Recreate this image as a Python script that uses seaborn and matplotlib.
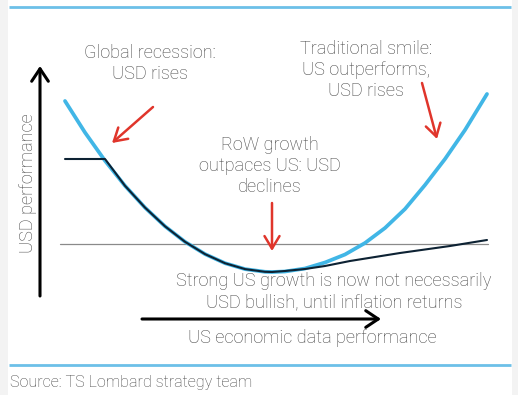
import numpy as np
import pandas as pd
import seaborn as sns
import matplotlib
matplotlib.use("Agg")
import matplotlib.pyplot as plt
from matplotlib.patches import Rectangle

# ---- data (x = US economic data performance, y = USD level; screen-like units) ----
smile_x = [65, 85, 105, 125, 145, 165, 185, 205, 225, 245, 265, 272, 285, 305, 325, 345,
           365, 385, 405, 425, 445, 465, 487]
smile_y = [101, 132.5, 160.7, 185.8, 207.6, 226.3, 241.8, 254.1, 263.2, 269.1, 271.8, 272,
           271.5, 268.5, 262.5, 254.5, 243, 228, 209, 185, 159, 130, 94]

new_x = [65, 105, 125, 145, 165, 185, 205, 225, 245, 265, 272, 285, 305, 325, 350, 400, 450, 487]
new_y = [159, 159, 185.8, 207.6, 226.3, 241.8, 254.1, 263.2, 269.1, 271.8, 272, 271, 269,
         266, 261, 253, 246, 240]

neutral_x = [60, 488]
neutral_y = [244, 244]

labels = {
    "recession": "Global recession:\nUSD rises",
    "smile": "Traditional smile:\nUS outperforms,\nUSD rises",
    "row": "RoW growth\noutpaces US: USD\ndeclines",
    "strong": "Strong US growth is now not necessarily\nUSD bullish, until inflation returns",
}
x_label = "US economic data performance"
y_label = "USD performance"
source = "Source: TS Lombard strategy team"

# ---- figure ----
sns.set_theme(style="white")
plt.rcParams["font.family"] = ["Roboto", "DejaVu Sans"]

W, H = 518, 395
fig = plt.figure(figsize=(W / 100, H / 100), dpi=100, facecolor="#f3f3f3")
ax = fig.add_axes([0, 0, 1, 1])
ax.set_xlim(0, W)
ax.set_ylim(H, 0)
ax.axis("off")
ax.add_patch(Rectangle((8, 0), 504, H, facecolor="white", edgecolor="none", zorder=0))

SKY = "#41b6e6"
NAVY = "#0d2233"
TXT = "#454545"
RED = "#e0352b"

# frame lines
ax.plot([9, 511], [7, 7], color="#6cc0e8", lw=2, solid_capstyle="butt", zorder=1)
ax.plot([9, 511], [365, 365], color="#6cc0e8", lw=2, solid_capstyle="butt", zorder=1)

# neutral line
sns.lineplot(x=neutral_x, y=neutral_y, ax=ax, color="#8a8a8a", linewidth=0.9, zorder=2)
# traditional smile
sns.lineplot(x=smile_x, y=smile_y, ax=ax, color=SKY, linewidth=2.7, sort=False, zorder=3)
# new smile
sns.lineplot(x=new_x, y=new_y, ax=ax, color=NAVY, linewidth=1.5, sort=False, zorder=4)

# axis arrows
ax.annotate("", xy=(40, 66), xytext=(40, 296),
            arrowprops=dict(arrowstyle="->,head_length=0.75,head_width=0.5", color="black",
                            lw=2.2, mutation_scale=12, shrinkA=0, shrinkB=0))
ax.annotate("", xy=(381, 319), xytext=(142, 319),
            arrowprops=dict(arrowstyle="->,head_length=0.75,head_width=0.5", color="black",
                            lw=2.2, mutation_scale=12, shrinkA=0, shrinkB=0))

# red arrows
red_kw = dict(arrowstyle="->,head_length=0.75,head_width=0.45", color=RED, lw=1.8,
              mutation_scale=12, shrinkA=0, shrinkB=0)
ax.annotate("", xy=(112, 143), xytext=(153, 107), arrowprops=red_kw)
ax.annotate("", xy=(437, 139), xytext=(422, 83), arrowprops=red_kw)
ax.annotate("", xy=(272, 251), xytext=(272, 203), arrowprops=red_kw)

fs = 13.1
tkw = dict(color=TXT, fontsize=fs, ha="center", va="center", linespacing=1.22,
           fontweight="light")
ax.text(150, 63.5, labels["recession"], **tkw)
ax.text(366, 70, labels["smile"], **tkw)
ax.text(270, 166, labels["row"], **tkw)
ax.text(334, 291.5, labels["strong"], **tkw)
ax.text(312, 338, x_label, **tkw)
ax.text(28, 183, y_label, rotation=90, **tkw)
ax.text(10, 383, source, color=TXT, fontsize=11.6, ha="left", va="center", fontweight="light")

fig.savefig("out.png", dpi=100, facecolor=fig.get_facecolor())
